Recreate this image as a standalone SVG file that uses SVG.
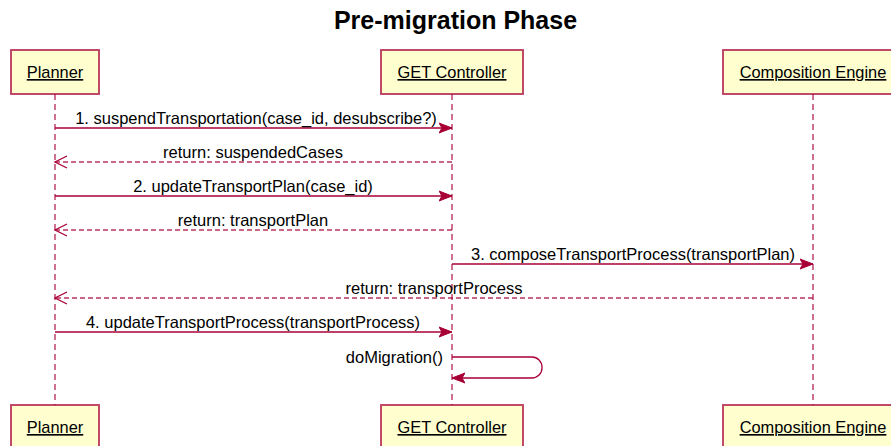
<svg xmlns="http://www.w3.org/2000/svg" width="891" height="446" viewBox="0 0 891 446">
<defs>
<marker id="sync" markerWidth="14" markerHeight="12" refX="13" refY="6" orient="auto" markerUnits="userSpaceOnUse">
<path d="M0,1 L13,6 L0,11 L3,6 Z" fill="#A80036" stroke="#A80036" stroke-width="1"/>
</marker>
<marker id="open" markerWidth="16" markerHeight="14" refX="14" refY="7" orient="auto" markerUnits="userSpaceOnUse">
<path d="M2,1 L14,7 L2,13" fill="none" stroke="#A80036" stroke-width="1.3"/>
</marker>
</defs>
<style>
.box{fill:#FEFECE;stroke:#A80036;stroke-width:1.9;stroke-opacity:0.75}
.pname{font-family:"Liberation Sans",Arial,sans-serif;font-size:16.4px;fill:#000;text-anchor:middle;text-decoration:underline}
.life{stroke:#A80036;stroke-width:1.3;stroke-dasharray:6,4;fill:none;stroke-opacity:0.85}
.msg{stroke:#A80036;stroke-width:1.3;fill:none}
.ret{stroke:#A80036;stroke-width:1.4;fill:none;stroke-dasharray:5,3;stroke-opacity:0.8}
.lbl{font-family:"Liberation Sans",Arial,sans-serif;font-size:16.5px;fill:#000;text-anchor:middle}
.title{font-family:"Liberation Sans",Arial,sans-serif;font-size:25px;font-weight:bold;fill:#000;text-anchor:middle}
</style>
<rect width="891" height="446" fill="#fff"/>
<text class="title" x="455.5" y="29">Pre-migration Phase</text>
<g id="lifelines">
<line class="life" x1="55" y1="94" x2="55" y2="405"/>
<line class="life" x1="452" y1="94" x2="452" y2="405"/>
<line class="life" x1="813" y1="94" x2="813" y2="405"/>
</g>
<g id="planner">
<rect class="box" x="11" y="50" width="88" height="44"/>
<text class="pname" x="55" y="78">Planner</text>
</g>
<g id="get-controller">
<rect class="box" x="381" y="50" width="142" height="44"/>
<text class="pname" x="452" y="78">GET Controller</text>
</g>
<g id="composition-engine">
<rect class="box" x="723" y="50" width="180" height="44"/>
<text class="pname" x="813" y="78">Composition Engine</text>
</g>
<g id="planner-bottom">
<rect class="box" x="11" y="405" width="88" height="44"/>
<text class="pname" x="55" y="433">Planner</text>
</g>
<g id="get-controller-bottom">
<rect class="box" x="381" y="405" width="142" height="44"/>
<text class="pname" x="452" y="433">GET Controller</text>
</g>
<g id="composition-engine-bottom">
<rect class="box" x="723" y="405" width="180" height="44"/>
<text class="pname" x="813" y="433">Composition Engine</text>
</g>
<g id="connectors">
<line class="msg" x1="55" y1="128" x2="452" y2="128" marker-end="url(#sync)"/>
<text class="lbl" x="256" y="124">1. suspendTransportation(case_id, desubscribe?)</text>
<line class="ret" x1="452" y1="162" x2="55" y2="162" marker-end="url(#open)"/>
<text class="lbl" x="253" y="158">return: suspendedCases</text>
<line class="msg" x1="55" y1="196" x2="452" y2="196" marker-end="url(#sync)"/>
<text class="lbl" x="253" y="192">2. updateTransportPlan(case_id)</text>
<line class="ret" x1="452" y1="230" x2="55" y2="230" marker-end="url(#open)"/>
<text class="lbl" x="253" y="226">return: transportPlan</text>
<line class="msg" x1="452" y1="264" x2="813" y2="264" marker-end="url(#sync)"/>
<text class="lbl" x="633" y="260">3. composeTransportProcess(transportPlan)</text>
<line class="ret" x1="813" y1="298" x2="55" y2="298" marker-end="url(#open)"/>
<text class="lbl" x="434" y="294">return: transportProcess</text>
<line class="msg" x1="55" y1="332" x2="452" y2="332" marker-end="url(#sync)"/>
<text class="lbl" x="253" y="328">4. updateTransportProcess(transportProcess)</text>
<path class="msg" d="M452,357 H532 A10,10 0 0 1 542,367 V368 A10,10 0 0 1 532,378 H452" marker-end="url(#sync)"/>
<text class="lbl" x="443" y="363" style="text-anchor:end">doMigration()</text>
</g>
</svg>
